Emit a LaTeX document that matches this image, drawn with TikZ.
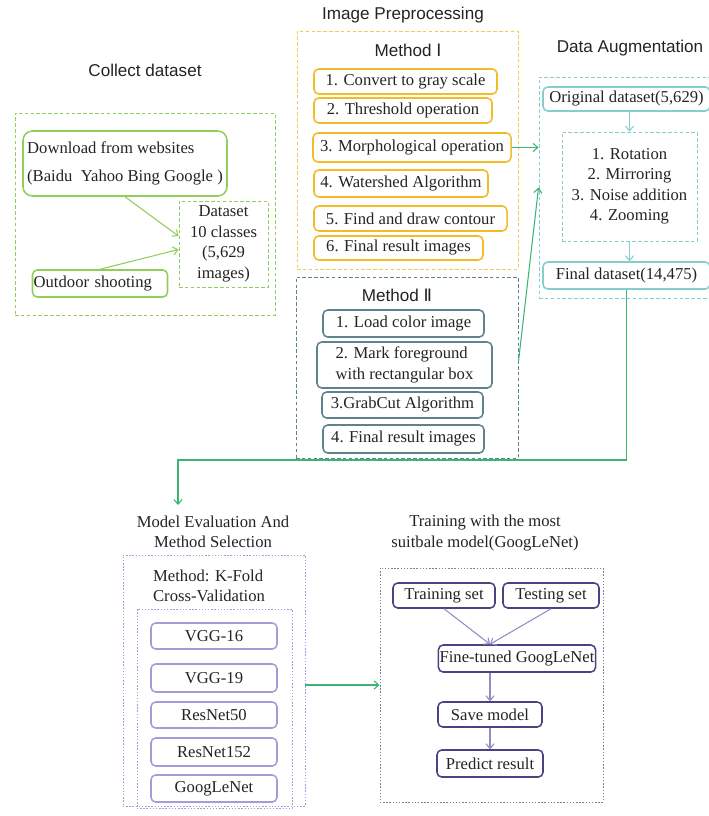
\documentclass[tikz,border=0pt]{standalone}
\usepackage{fontspec}
\setmainfont{Liberation Serif}
\setsansfont{Liberation Sans}
\newfontfamily\numfont{DejaVu Sans}
\usetikzlibrary{arrows.meta, positioning}
\definecolor{LeafGreen}{RGB}{146, 205, 90}
\definecolor{FlowGreen}{RGB}{60, 180, 115}
\definecolor{AmberGold}{RGB}{242, 188, 40}
\definecolor{SlateTeal}{RGB}{95, 130, 145}
\definecolor{AquaLight}{RGB}{135, 205, 205}
\definecolor{Lavender}{RGB}{165, 155, 215}
\definecolor{DeepIndigo}{RGB}{70, 68, 130}
\definecolor{InkGray}{RGB}{35, 35, 35}

\begin{document}
\begin{tikzpicture}[
      x=0.03cm, y=-0.03cm,
      every node/.style={text=InkGray, font=\fontsize{14.2}{16.5}\selectfont},
      title/.style={font=\sffamily\fontsize{14.6}{17}\selectfont},
      headtext/.style={align=center, font=\fontsize{14.2}{17.5}\selectfont},
      stepbox/.style={rectangle, rounded corners=4pt, line width=1.3pt, inner sep=1pt, align=center},
      dashframe/.style={rectangle, line width=0.8pt, dash pattern=on 3pt off 2pt},
      dotframe/.style={rectangle, line width=0.8pt, dash pattern=on 1.2pt off 1.5pt},
      flowarrow/.style={-{Straight Barb[length=4pt,width=7pt]}, line width=0.9pt},
    ]
    \useasboundingbox (0,0) rectangle (709,816);

    % Collect dataset
    \node[title] (tCollect) at (145,70) {Collect dataset};
    \node[dashframe, draw=LeafGreen, minimum width=7.8cm, minimum height=6.06cm] (collectBox) at (145,214) {};
    \node[stepbox, draw=LeafGreen, rounded corners=8pt, minimum width=6.12cm, minimum height=1.95cm, align=left] (download) at (125,163.5) {Download from websites\\[8pt](Baidu\ \ Yahoo Bing Google )};
    \node[stepbox, draw=LeafGreen, text width=3.98cm, minimum height=0.81cm, align=left] (outdoor) at (100,283.5) {Outdoor shooting};
    \node[dashframe, draw=LeafGreen, minimum width=2.67cm, minimum height=2.58cm, align=center, font=\fontsize{14.2}{17.5}\selectfont] (dataset) at (223.5,244) {Dataset\\10 classes\\(5,629\\images)};
    \draw[flowarrow, LeafGreen] (download.south) -- (dataset.170);
    \draw[flowarrow, LeafGreen] (outdoor.north) -- (dataset.187);

    % Image preprocessing: Method I
    \node[title] (tPre) at (403,15) {Image Preprocessing};
    \node[dashframe, draw=AmberGold!80, minimum width=6.63cm, minimum height=7.14cm] (m1Box) at (407.5,150) {};
    \node[title] (tM1) at (408,50) {Method {\numfont Ⅰ}};
    \node[stepbox, draw=AmberGold, minimum width=5.49cm, minimum height=0.75cm] (pre1) at (405.5,81.5) {1. Convert to gray scale};
    \node[stepbox, draw=AmberGold, minimum width=5.34cm, minimum height=0.75cm] (pre2) at (403,110.5) {2. Threshold operation};
    \node[stepbox, draw=AmberGold, minimum width=5.94cm, minimum height=0.87cm] (pre3) at (412,147.5) {3. Morphological operation};
    \node[stepbox, draw=AmberGold, minimum width=5.22cm, minimum height=0.81cm] (pre4) at (401,183.5) {4. Watershed Algorithm};
    \node[stepbox, draw=AmberGold, minimum width=5.79cm, minimum height=0.75cm] (pre5) at (410.5,218.5) {5. Find and draw contour};
    \node[stepbox, draw=AmberGold, minimum width=5.07cm, minimum height=0.72cm] (pre6) at (398.5,248) {6. Final result images};

    % Image preprocessing: Method II
    \node[dashframe, draw=SlateTeal, minimum width=6.66cm, minimum height=5.43cm] (m2Box) at (407,367.5) {};
    \node[title] (tM2) at (397,295) {Method {\numfont Ⅱ}};
    \node[stepbox, draw=SlateTeal, minimum width=4.83cm, minimum height=0.81cm] (cut1) at (403.5,323.5) {1. Load color image};
    \node[stepbox, draw=SlateTeal, minimum width=5.25cm, minimum height=1.38cm, align=left, font=\fontsize{14.2}{17.5}\selectfont] (cut2) at (404.5,365) {2. Mark foreground\\with rectangular box};
    \node[stepbox, draw=SlateTeal, minimum width=4.83cm, minimum height=0.78cm] (cut3) at (402.5,405) {3.GrabCut Algorithm};
    \node[stepbox, draw=SlateTeal, minimum width=4.83cm, minimum height=0.84cm] (cut4) at (403.5,439) {4. Final result images};

    % Data augmentation
    \node[title] (tAug) at (630,48) {Data Augmentation};
    \node[dashframe, draw=AquaLight, minimum width=5.43cm, minimum height=6.63cm] (augBox) at (629.5,187.5) {};
    \node[stepbox, draw=AquaLight, minimum width=5.01cm, minimum height=0.72cm] (orig) at (626.5,99) {Original dataset(5,629)};
    \node[dashframe, draw=AquaLight, minimum width=4.05cm, minimum height=3.27cm, align=center, font=\fontsize{14.2}{17.5}\selectfont] (augList) at (629.5,186.5) {1. Rotation\\2. Mirroring\\3. Noise addition\\4. Zooming};
    \node[stepbox, draw=AquaLight, minimum width=5.01cm, minimum height=0.81cm] (final) at (626.5,275.5) {Final dataset(14,475)};
    \draw[flowarrow, AquaLight] (orig.south -| augList.north) -- (augList.north);
    \draw[flowarrow, AquaLight] (augList.south) -- (augList.south |- final.north);

    \draw[flowarrow, FlowGreen] (pre3.east) -- (pre3.east -| augBox.west);
    \draw[flowarrow, FlowGreen] (m2Box.3) -- (augBox.west);

    % Model evaluation
    \node[headtext] (tEval) at (213,532) {Model Evaluation And\\Method Selection};
    \coordinate (turnPt) at (178,460);
    \coordinate (evalIn) at (178,505);
    \draw[flowarrow, FlowGreen] (final.south) |- (turnPt) -- (evalIn);
    \node[dotframe, draw=Lavender, minimum width=5.46cm, minimum height=7.53cm] (evalBox) at (214,680.5) {};
    \node[anchor=west, align=left, font=\fontsize{14.2}{17.5}\selectfont] (tCv) at (149,586) {Method: K-Fold\\Cross-Validation};
    \node[dotframe, draw=Lavender, minimum width=4.65cm, minimum height=5.97cm] (cvBox) at (214.5,708.5) {};
    \node[stepbox, draw=Lavender, minimum width=3.78cm, minimum height=0.78cm] (vgg16) at (214,636) {VGG-16};
    \node[stepbox, draw=Lavender, minimum width=3.78cm, minimum height=0.84cm] (vgg19) at (214,678) {VGG-19};
    \node[stepbox, draw=Lavender, minimum width=3.78cm, minimum height=0.78cm] (res50) at (214,715) {ResNet50};
    \node[stepbox, draw=Lavender, minimum width=3.78cm, minimum height=0.84cm] (res152) at (214,752) {ResNet152};
    \node[stepbox, draw=Lavender, minimum width=3.78cm, minimum height=0.81cm] (googlenet) at (214,788.5) {GoogLeNet};

    % Training
    \node[headtext] (tTrain) at (485,533) {Training with the most\\suitbale model(GoogLeNet)};
    \node[dotframe, draw=DeepIndigo!70, minimum width=6.69cm, minimum height=7.02cm] (trainBox) at (491.5,685) {};
    \draw[flowarrow, FlowGreen] (trainBox.west -| evalBox.east) -- (trainBox.west);
    \node[stepbox, draw=DeepIndigo, minimum width=3.06cm, minimum height=0.75cm] (trainSet) at (444,595.5) {Training set};
    \node[stepbox, draw=DeepIndigo, minimum width=2.88cm, minimum height=0.75cm] (testSet) at (551,595.5) {Testing set};
    \node[stepbox, draw=DeepIndigo, minimum width=4.53cm, minimum height=0.81cm] (fineTuned) at (517,658.5) {Fine-tuned GoogLeNet};
    \node[stepbox, draw=DeepIndigo, minimum width=3.12cm, minimum height=0.75cm] (saveModel) at (490,714.5) {Save model};
    \node[stepbox, draw=DeepIndigo, minimum width=3.18cm, minimum height=0.81cm] (predict) at (490,763.5) {Predict result};
    \draw[flowarrow, Lavender!90!black] (trainSet.south) -- (fineTuned.north -| saveModel.north);
    \draw[flowarrow, Lavender!90!black] (testSet.south) -- (fineTuned.north -| saveModel.north);
    \draw[flowarrow, Lavender!90!black] (fineTuned.south -| saveModel.north) -- (saveModel.north);
    \draw[flowarrow, Lavender!90!black] (saveModel.south) -- (saveModel.south |- predict.north);
  \end{tikzpicture}
\end{document}
